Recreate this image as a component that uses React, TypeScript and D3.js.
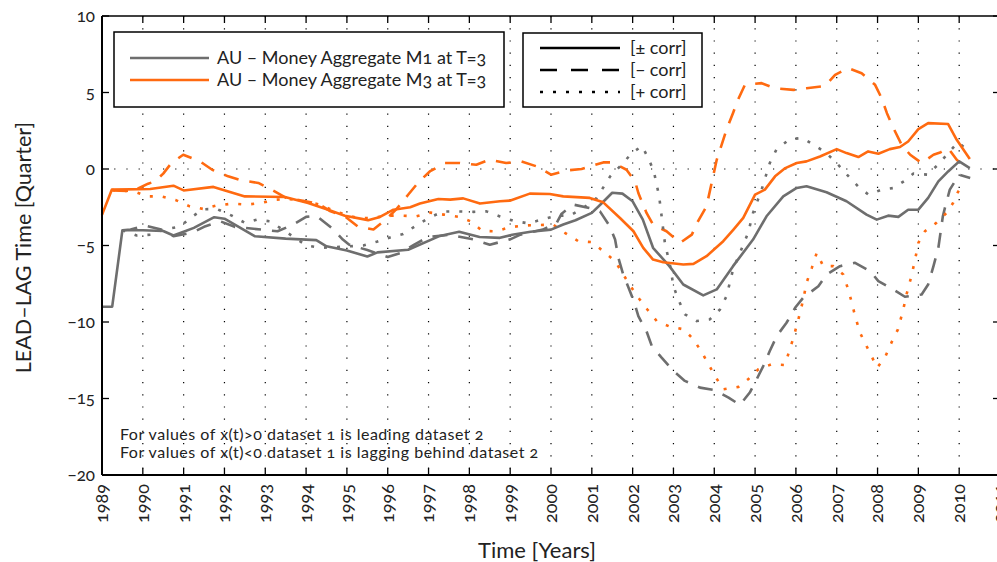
import React from "react";
import * as d3 from "d3";

// Lead–lag time series, quarterly, [year, quarters]
const m1Both: [number, number][] = [
  [1989.0, -9], [1989.25, -9], [1989.5, -4.0], [1990.0, -4.0], [1990.5, -4.05], [1990.75, -4.35],
  [1991.0, -4.1], [1991.25, -3.85], [1991.75, -3.15], [1992.0, -3.25], [1992.75, -4.4], [1993.5, -4.55],
  [1994.25, -4.65], [1994.5, -5.05], [1995.0, -5.33], [1995.5, -5.72], [1995.75, -5.45], [1996.5, -5.28],
  [1997.25, -4.4], [1997.75, -4.1], [1998.25, -4.44], [1998.75, -4.5], [1999.05, -4.3], [1999.5, -4.1],
  [2000.0, -3.96], [2000.3, -3.63], [2000.6, -3.35], [2001.0, -2.87], [2001.25, -2.22], [2001.5, -1.55],
  [2001.75, -1.61], [2002.0, -2.11], [2002.25, -3.31], [2002.5, -5.15], [2002.9, -6.35], [2003.24, -7.55],
  [2003.73, -8.26], [2004.06, -7.87], [2004.46, -6.35], [2004.95, -4.61], [2005.28, -3.09], [2005.69, -1.79],
  [2006.02, -1.24], [2006.26, -1.13], [2006.75, -1.52], [2007.24, -2.11], [2007.73, -2.98], [2007.98, -3.31],
  [2008.26, -3.05], [2008.51, -3.13], [2008.75, -2.66], [2009.0, -2.66], [2009.24, -1.89], [2009.49, -0.81],
  [2009.73, -0.16], [2010.0, 0.5], [2010.26, 0.06],
];

const m3Both: [number, number][] = [
  [1989.0, -3.0], [1989.24, -1.35], [1990.18, -1.31], [1990.75, -1.09], [1991.0, -1.4], [1991.73, -1.17],
  [1992.5, -1.79], [1993.48, -1.83], [1994.05, -2.22], [1994.54, -2.66], [1994.95, -3.05], [1995.36, -3.26],
  [1995.52, -3.35], [1995.81, -3.13], [1996.14, -2.66], [1996.55, -2.5], [1996.79, -2.26], [1997.24, -1.96],
  [1997.53, -2.0], [1997.85, -1.92], [1998.26, -2.26], [1998.75, -2.11], [1998.99, -2.07], [1999.48, -1.61],
  [1999.97, -1.63], [2000.3, -1.79], [2000.95, -1.89], [2001.28, -2.18], [2001.69, -3.2], [2002.02, -4.07],
  [2002.26, -5.15], [2002.5, -5.92], [2002.75, -6.09], [2003.24, -6.24], [2003.49, -6.2], [2003.81, -5.7],
  [2004.22, -4.72], [2004.47, -3.96], [2004.71, -3.2], [2005.0, -1.68], [2005.24, -1.35], [2005.49, -0.48],
  [2005.74, 0.06], [2006.02, 0.39], [2006.26, 0.5], [2006.59, 0.82], [2007.0, 1.3], [2007.24, 1.04],
  [2007.53, 0.78], [2007.77, 1.15], [2008.02, 1.0], [2008.3, 1.3], [2008.55, 1.44], [2008.75, 1.8],
  [2009.0, 2.61], [2009.24, 3.0], [2009.73, 2.94], [2009.94, 1.91], [2010.26, 0.65],
];

const m1Neg: [number, number][] = [
  [1989.5, -4.0], [1989.7, -3.95], [1990.05, -3.7], [1990.45, -3.96], [1990.75, -4.39], [1991.2, -4.17],
  [1991.5, -3.78], [1991.9, -3.42], [1992.25, -3.78], [1993.3, -4.07], [1993.65, -3.68], [1994.0, -3.13],
  [1994.25, -3.05], [1994.65, -3.91], [1994.9, -4.61], [1995.05, -4.94], [1995.5, -5.3], [1996.0, -5.75],
  [1996.3, -5.5], [1996.65, -4.94], [1997.0, -4.44], [1997.5, -4.3], [1998.1, -4.6], [1998.5, -4.95],
  [1999.0, -4.6], [1999.25, -4.29], [1999.8, -3.96], [2000.14, -3.52], [2000.26, -2.92], [2000.55, -2.33],
  [2000.95, -2.55], [2001.2, -2.77], [2001.44, -3.74], [2001.57, -4.61], [2001.65, -5.8], [2001.77, -6.9],
  [2001.9, -7.76], [2002.03, -8.64], [2002.14, -9.62], [2002.34, -10.6], [2002.47, -11.57], [2002.71, -12.33],
  [2003.0, -13.2], [2003.28, -13.85], [2003.65, -14.29], [2004.0, -14.44], [2004.35, -14.94], [2004.63, -15.42],
  [2004.87, -14.61], [2005.04, -13.74], [2005.2, -12.88], [2005.36, -11.9], [2005.53, -10.92], [2005.77, -10.05],
  [2005.98, -9.07], [2006.18, -8.41], [2006.55, -7.66], [2006.75, -6.9], [2007.08, -6.35], [2007.45, -6.13],
  [2007.82, -6.68], [2008.02, -7.33], [2008.38, -7.87], [2008.67, -8.35], [2009.08, -8.2], [2009.24, -7.55],
  [2009.37, -6.35], [2009.49, -5.15], [2009.6, -3.09], [2009.66, -2.44], [2009.77, -1.35], [2010.0, -0.37],
  [2010.27, -0.59],
];

const m3Neg: [number, number][] = [
  [1989.25, -1.4], [1989.75, -1.45], [1990.13, -0.96], [1990.3, -0.81], [1990.5, -0.3], [1990.7, 0.39],
  [1990.99, 0.93], [1991.4, 0.5], [1991.7, -0.05], [1992.09, -0.48], [1992.4, -0.74], [1992.83, -0.91],
  [1993.15, -1.35], [1993.5, -1.87], [1994.3, -2.26], [1994.6, -2.77], [1994.95, -3.09], [1995.28, -3.78],
  [1995.65, -3.95], [1995.97, -3.26], [1996.22, -2.61], [1996.5, -1.68], [1996.75, -0.87], [1997.03, -0.16],
  [1997.4, 0.39], [1997.77, 0.39], [1998.17, 0.28], [1998.5, 0.61], [1998.9, 0.39], [1999.27, 0.5],
  [1999.65, 0.17], [2000.0, -0.37], [2000.4, -0.09], [2000.75, 0.0], [2001.28, 0.43], [2001.5, 0.43],
  [2001.85, -0.05], [2002.06, -0.81], [2002.14, -1.57], [2002.34, -2.87], [2002.5, -3.63], [2002.83, -4.07],
  [2003.16, -4.83], [2003.45, -4.29], [2003.6, -3.42], [2003.81, -2.44], [2004.06, 0.6], [2004.18, 1.58],
  [2004.3, 2.57], [2004.46, 3.66], [2004.58, 4.52], [2004.75, 5.5], [2005.16, 5.61], [2005.48, 5.28],
  [2005.94, 5.17], [2006.26, 5.28], [2006.71, 5.43], [2006.96, 6.15], [2007.28, 6.59], [2007.61, 6.26],
  [2007.94, 5.5], [2008.1, 4.63], [2008.23, 3.65], [2008.39, 2.67], [2008.59, 1.58], [2008.8, 0.93],
  [2009.08, 0.39], [2009.37, 0.93], [2009.55, 1.1], [2009.73, 1.37], [2009.94, 0.6], [2010.2, 0.0],
];

const m1Pos: [number, number][] = [
  [1989.5, -4.0], [1989.85, -4.35], [1990.22, -4.29], [1990.5, -3.96], [1990.91, -3.76], [1991.2, -3.13],
  [1991.48, -2.63], [1991.81, -2.61], [1992.18, -3.05], [1992.5, -3.52], [1992.79, -3.31], [1993.12, -3.42],
  [1994.01, -5.0], [1994.34, -5.15], [1995.08, -5.05], [1995.4, -5.0], [1995.73, -4.75], [1996.1, -4.44],
  [1996.38, -4.25], [1996.71, -3.67], [1997.04, -3.15], [1997.36, -2.78], [1997.7, -2.77], [1998.1, -2.8],
  [1998.42, -2.77], [1998.75, -3.1], [1999.07, -3.38], [1999.44, -3.55], [1999.77, -3.31], [2000.14, -3.05],
  [2000.46, -3.05], [2000.79, -2.55], [2001.12, -1.89], [2001.45, -0.48], [2001.73, 0.28], [2001.98, 1.04],
  [2002.23, 1.5], [2002.4, 0.61], [2002.52, -0.16], [2002.65, -1.79], [2002.71, -3.09], [2002.79, -4.83],
  [2002.92, -6.35], [2003.0, -7.66], [2003.12, -8.53], [2003.28, -9.5], [2003.57, -9.94], [2003.89, -9.83],
  [2004.14, -9.18], [2004.3, -8.31], [2004.46, -6.57], [2004.63, -5.48], [2004.83, -4.17], [2004.95, -2.87],
  [2005.16, -1.35], [2005.36, 0.39], [2005.52, 1.26], [2005.85, 1.96], [2006.17, 2.02], [2006.42, 1.6],
  [2006.72, 1.1], [2007.0, 0.39], [2007.25, -0.37], [2007.52, -1.13], [2007.78, -1.68], [2008.1, -1.35],
  [2008.38, -1.25], [2008.65, -0.8], [2008.88, -0.3], [2009.22, -0.37], [2009.47, 0.25], [2009.72, 1.0],
  [2009.97, 1.75], [2010.18, 1.3],
];

const m3Pos: [number, number][] = [
  [1989.25, -1.35], [1989.4, -1.46], [1989.73, -1.4], [1990.1, -1.79], [1990.45, -1.79], [1990.82, -2.05],
  [1991.15, -2.44], [1991.48, -2.61], [1991.8, -2.39], [1992.2, -2.26], [1992.55, -2.33], [1992.9, -2.22],
  [1993.28, -2.0], [1993.57, -1.96], [1993.85, -2.05], [1994.3, -2.3], [1994.75, -2.8], [1995.25, -3.2],
  [1995.6, -3.2], [1996.0, -3.05], [1996.35, -3.05], [1996.7, -3.09], [1997.05, -2.85], [1997.37, -2.98],
  [1997.75, -3.13], [1998.03, -3.42], [1998.32, -4.05], [1998.65, -4.07], [1998.98, -3.82], [1999.3, -3.7],
  [1999.7, -3.66], [2000.05, -3.63], [2000.34, -4.17], [2000.67, -4.72], [2001.0, -4.78], [2001.28, -5.37],
  [2001.57, -6.02], [2001.77, -6.9], [2001.95, -7.66], [2002.16, -8.48], [2002.36, -9.18], [2002.59, -9.94],
  [2002.92, -10.31], [2003.25, -10.48], [2003.49, -11.13], [2003.7, -12.0], [2003.86, -12.77], [2004.02, -13.53],
  [2004.22, -14.4], [2004.59, -14.24], [2004.83, -13.74], [2005.08, -13.09], [2005.4, -12.77], [2005.73, -12.81],
  [2005.94, -11.02], [2006.06, -9.83], [2006.18, -8.53], [2006.26, -7.44], [2006.39, -6.46], [2006.51, -5.48],
  [2006.67, -6.35], [2006.92, -6.35], [2007.16, -6.9], [2007.28, -7.87], [2007.37, -8.74], [2007.45, -9.61],
  [2007.57, -10.7], [2007.73, -11.57], [2007.99, -12.98], [2008.18, -12.33], [2008.34, -11.35], [2008.5, -10.48],
  [2008.63, -9.18], [2008.71, -8.2], [2008.83, -7.0], [2008.92, -5.92], [2009.0, -4.83], [2009.16, -4.07],
  [2009.44, -3.52], [2009.69, -2.87], [2009.85, -2.22], [2009.97, -1.5], [2010.1, -1.0],
];

const xTicks = d3.range(1989, 2012);
const yTicks = [10, 5, 0, -5, -10, -15, -20];
const legendSeries = ["AU \u2013 Money Aggregate M1 at T=3", "AU \u2013 Money Aggregate M3 at T=3"];
const legendStyles = ["[\u00b1 corr]", "[\u2212 corr]", "[+ corr]"];
const notes = [
  "For values of x(t)>0 dataset 1 is leading dataset 2",
  "For values of x(t)<0 dataset 1 is lagging behind dataset 2",
];

const GRAY = "#6e6e6e";
const ORANGE = "#ff6a10";
const DASH = "15,11";
const DOT = "3,10";
const FONT = "Lato, 'Open Sans', sans-serif";

export default function App() {
  const left = 102, right = 1000, top = 16, bottom = 475;
  const x = d3.scaleLinear().domain([1989, 2011]).range([left, right]);
  const y = d3.scaleLinear().domain([-20, 10]).range([bottom, top]);
  const line = d3.line<[number, number]>().x((d) => x(d[0])).y((d) => y(d[1]));

  const series = [
    { data: m1Neg, color: GRAY, dash: DASH },
    { data: m3Neg, color: ORANGE, dash: DASH },
    { data: m1Pos, color: GRAY, dash: DOT },
    { data: m3Pos, color: ORANGE, dash: DOT },
    { data: m1Both, color: GRAY, dash: undefined },
    { data: m3Both, color: ORANGE, dash: undefined },
  ];

  const num = { fontVariantNumeric: "oldstyle-nums" } as React.CSSProperties;

  return (
    <svg
      width={997}
      height={562}
      style={{ position: "absolute", left: 0, top: 0, background: "#fff", fontFamily: FONT, ...num }}
    >
      <rect x={0} y={0} width={997} height={562} fill="#fff" />
      {/* dotted grid */}
      {xTicks.filter((t) => t > 1989 && t < 2011).map((t) => (
        <line key={"g" + t} x1={x(t)} x2={x(t)} y1={top} y2={bottom} stroke="#000" strokeWidth={1.2} strokeDasharray="1.2,11" />
      ))}
      <line x1={left} x2={right} y1={y(0)} y2={y(0)} stroke="#000" strokeWidth={1.2} strokeDasharray="1.2,11" />

      {/* series */}
      {series.map((s, i) => (
        <path key={i} d={line(s.data) || ""} fill="none" stroke={s.color} strokeWidth={2.6} strokeDasharray={s.dash} strokeLinejoin="round" />
      ))}

      {/* axes frame */}
      <line x1={left} x2={right} y1={top} y2={top} stroke="#000" strokeWidth={1.5} />
      <line x1={left} x2={right} y1={bottom} y2={bottom} stroke="#000" strokeWidth={2} />
      <line x1={left} x2={left} y1={top} y2={bottom} stroke="#000" strokeWidth={2} />
      <line x1={right} x2={right} y1={top} y2={bottom} stroke="#000" strokeWidth={1.5} />
      {xTicks.map((t) => (
        <g key={"xt" + t}>
          <line x1={x(t)} x2={x(t)} y1={bottom} y2={bottom - 7} stroke="#000" strokeWidth={1.3} />
          <line x1={x(t)} x2={x(t)} y1={top} y2={top + 7} stroke="#000" strokeWidth={1.3} />
          <text
            transform={`translate(${x(t)},${bottom + 9}) rotate(-90)`}
            textAnchor="end"
            dy="0.33em"
            fontSize={18}
            fill="#222"
          >
            {t}
          </text>
        </g>
      ))}
      {yTicks.map((t) => (
        <g key={"yt" + t}>
          <line x1={left} x2={left + 7} y1={y(t)} y2={y(t)} stroke="#000" strokeWidth={1.3} />
          <line x1={right} x2={right - 7} y1={y(t)} y2={y(t)} stroke="#000" strokeWidth={1.3} />
          <text x={left - 7} y={y(t)} dy="0.33em" textAnchor="end" fontSize={17} fill="#222">
            {t < 0 ? "\u2212" + Math.abs(t) : t}
          </text>
        </g>
      ))}

      {/* axis titles */}
      <text x={537} y={558} textAnchor="middle" fontSize={22} fill="#222">Time [Years]</text>
      <text transform={`translate(31,${(top + bottom) / 2 + 2}) rotate(-90)`} textAnchor="middle" fontSize={21.5} fill="#222">
        LEAD–LAG Time [Quarter]
      </text>

      {/* series legend */}
      <rect x={114} y={32} width={390} height={75} fill="#fff" stroke="#000" strokeWidth={1.5} />
      {legendSeries.map((label, i) => (
        <g key={"ls" + i}>
          <line x1={130} x2={209} y1={58 + i * 22} y2={58 + i * 22} stroke={i === 0 ? GRAY : ORANGE} strokeWidth={2.6} />
          <text x={217} y={58 + i * 22} dy="0.35em" fontSize={18} fill="#222">{label}</text>
        </g>
      ))}

      {/* line-style legend */}
      <rect x={523} y={33} width={179} height={74} fill="#fff" stroke="#000" strokeWidth={1.5} />
      {legendStyles.map((label, i) => (
        <g key={"lk" + i}>
          <line
            x1={540} x2={620} y1={48 + i * 22} y2={48 + i * 22}
            stroke="#000" strokeWidth={2.6}
            strokeDasharray={i === 0 ? undefined : i === 1 ? "17,14" : DOT}
          />
          <text x={630} y={48 + i * 22} dy="0.35em" fontSize={18} fill="#222">{label}</text>
        </g>
      ))}

      {/* note */}
      {notes.map((n, i) => (
        <text key={"n" + i} x={120} y={440 + i * 18} fontSize={16} letterSpacing={0.5} fill="#222">{n}</text>
      ))}
    </svg>
  );
}
